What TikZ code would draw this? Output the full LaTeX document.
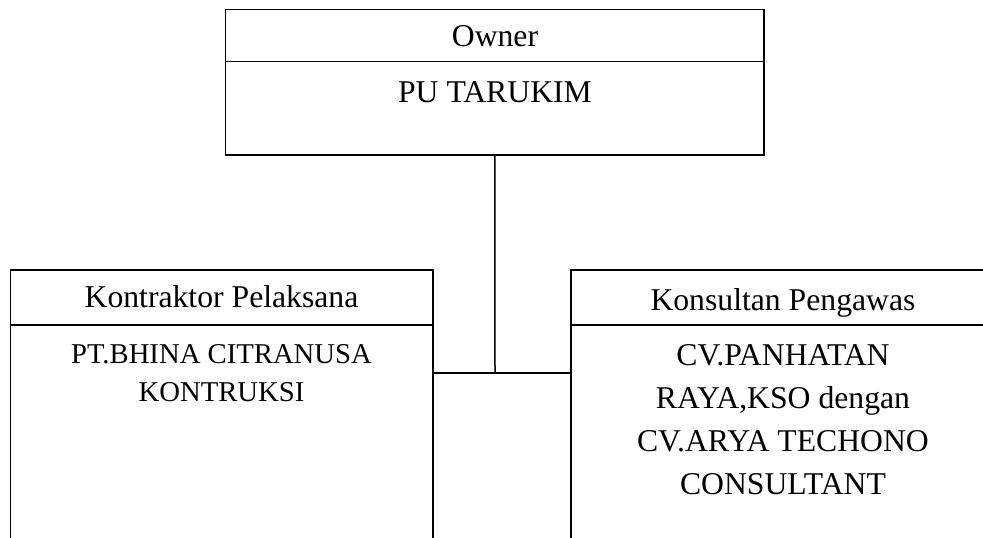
\documentclass[tikz,border=0pt]{standalone}
\usepackage{fontspec}
\setmainfont{Liberation Serif}
\usetikzlibrary{positioning}
\tikzstyle{frame} = [draw, line width=1.5pt, inner sep=0pt, outer sep=0pt, anchor=north west]
\tikzstyle{line} = [line width=1.5pt]
\tikzstyle{head} = [inner sep=0pt, anchor=base, font=\fontsize{31.7}{38}\selectfont]

\begin{document}
\begin{tikzpicture}[x=1pt, y=-1pt]
		\clip (0,0) rectangle (983,538);
		% boxes
		\node[frame, minimum width=538.3pt, minimum height=145.7pt] (owner)      at (225.7,9.3) {};
		\node[frame, minimum width=422.3pt, minimum height=300pt]   (kontraktor) at (10.7,270)  {};
		\node[frame, minimum width=424pt,   minimum height=300pt]   (konsultan)  at (571,270)   {};
		
		\draw[line] ([yshift=-52.4pt]owner.north west)    -- ([yshift=-52.4pt]owner.north east);
		\draw[line] ([yshift=-55pt]kontraktor.north west) -- ([yshift=-55pt]kontraktor.north east);
		\draw[line] ([yshift=-55pt]konsultan.north west)  -- ([yshift=-55pt]konsultan.north east);
		
		% texts (multi-line nodes sit on their last baseline)
		\node[head] (owner title)      at (495,46)    {Owner};
		\node[head] (owner name)       at (495,102.5) {PU TARUKIM};
		\node[head] (kontraktor title) at (221.5,307) {Kontraktor Pelaksana};
		\node[head, align=center, font=\fontsize{28.7}{38.4}\selectfont] (kontraktor name) at (221.5,401.7)
			{PT.BHINA CITRANUSA\\KONTRUKSI};
		\node[head] (konsultan title)  at (783,310.5) {Konsultan Pengawas};
		\node[head, align=center, font=\fontsize{31.7}{42.7}\selectfont] (konsultan name) at (783,494)
			{CV.PANHATAN\\RAYA,KSO dengan\\CV.ARYA TECHONO\\CONSULTANT};
		
		% connectors
		\coordinate (junction) at (495,373);
		\draw[line] (owner.south) -- (junction);
		\draw[line] (kontraktor.east |- junction) -- (konsultan.west |- junction);
	\end{tikzpicture}
\end{document}
